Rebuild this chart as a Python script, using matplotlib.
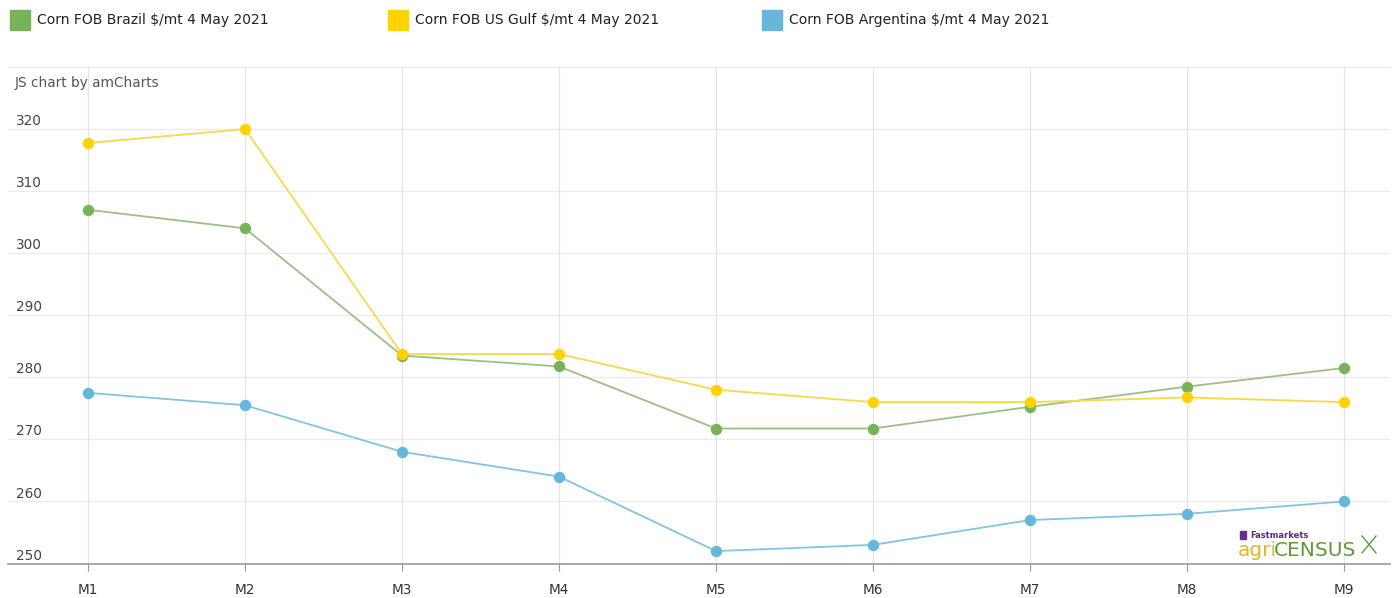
import matplotlib
matplotlib.use("Agg")
import matplotlib.pyplot as plt
from matplotlib.patches import Rectangle

# ---- data ----
months = ["M1", "M2", "M3", "M4", "M5", "M6", "M7", "M8", "M9"]
brazil = [307.0, 304.0, 283.5, 281.75, 271.75, 271.75, 275.25, 278.5, 281.5]
us_gulf = [317.75, 320.0, 283.75, 283.75, 278.0, 276.0, 276.0, 276.75, 276.0]
argentina = [277.5, 275.5, 268.0, 264.0, 252.0, 253.0, 257.0, 258.0, 260.0]
series_names = ["Corn FOB Brazil $/mt 4 May 2021",
                "Corn FOB US Gulf $/mt 4 May 2021",
                "Corn FOB Argentina $/mt 4 May 2021"]
y_ticks = [250, 260, 270, 280, 290, 300, 310, 320]

marker_cols = ["#78b35a", "#ffd200", "#67b7dc"]
line_cols = ["#9cbf88", "#f7d94a", "#85c3e0"]

W, H = 1395, 598
fig = plt.figure(figsize=(W / 100, H / 100), dpi=100)
ax = fig.add_axes([8 / W, 1 - 563.5 / H, (1390 - 8) / W, (563.5 - 67) / H])

x = list(range(len(months)))
for vals, mc, lc in zip([brazil, us_gulf, argentina], marker_cols, line_cols):
    ax.plot(x, vals, "-", color=lc, lw=1.3, zorder=3)
    ax.plot(x, vals, "o", color=mc, ms=7.2, mec=mc, zorder=4)

ax.set_xlim(-80 / 157, 8 + 46 / 157)
ax.set_ylim(250, 330)

# grid
for v in y_ticks[1:] + [330]:
    ax.axhline(v, color="#ebebeb", lw=0.9, zorder=1)
for i in x:
    ax.axvline(i, color="#e4e4e4", lw=0.9, zorder=1)

for s in ["top", "right", "left"]:
    ax.spines[s].set_visible(False)
ax.spines["bottom"].set_color("#999999")
ax.spines["bottom"].set_linewidth(1.2)

ax.set_xticks(x)
ax.set_xticklabels(months, fontsize=9.8, color="#333333")
ax.tick_params(axis="x", length=5, color="#999999", pad=9)
ax.set_yticks([])

for v in y_ticks:
    ax.text(-0.46, v + 0.15, str(v), fontsize=9.8, color="#444444",
            ha="left", va="bottom", zorder=5)

ax.text(-0.47, 328.5, "JS chart by amCharts", fontsize=9.8, color="#555555",
        ha="left", va="top")

# legend across the top
leg_sq = [10, 388, 762]
for sx, name, mc in zip(leg_sq, series_names, marker_cols):
    fig.patches.append(Rectangle((sx / W, 1 - 30 / H), 20 / W, 20 / H,
                                 transform=fig.transFigure, color=mc))
    fig.text((sx + 27) / W, 1 - 20 / H, name, fontsize=10, color="#222222",
             ha="left", va="center")

# watermark logo
fig.text(1250 / W, 1 - 535 / H, "Fastmarkets", fontsize=6, color="#5b2b82",
         weight="bold", ha="left", va="center")
fig.patches.append(Rectangle((1240 / W, 1 - 539 / H), 6 / W, 8 / H,
                             transform=fig.transFigure, color="#6a2c91"))
fig.text(1238 / W, 1 - 551 / H, "agri", fontsize=14.5, color="#e2b628",
         ha="left", va="center")
fig.text(1274 / W, 1 - 551 / H, "CENSUS", fontsize=14.5, color="#5e9a3a",
         ha="left", va="center")
for (x0, y0, x1, y1) in [(1362, 536, 1376, 553), (1362, 553, 1376, 536)]:
    fig.add_artist(plt.Line2D([x0 / W, x1 / W], [1 - y0 / H, 1 - y1 / H],
                              color="#5e9a3a", lw=1))

fig.savefig("out.png", dpi=100)
